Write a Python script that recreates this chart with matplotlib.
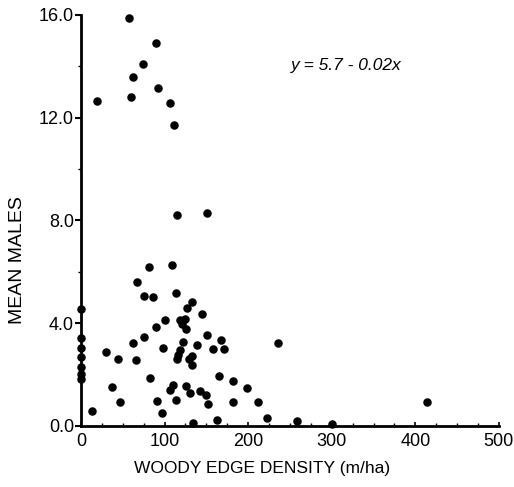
import matplotlib
matplotlib.use("Agg")
import matplotlib.pyplot as plt
from matplotlib.ticker import MultipleLocator

plt.rcParams['font.family'] = ['Liberation Sans', 'DejaVu Sans']

# woody edge density (m/ha) and mean males per site
edge_density = [
    57.8, 89.3, 74.5, 62.6, 92.5, 19.5, 59.4, 106.5, 110.9,
    114.4, 150.3, 81.7, 109.2, 67.0,
    75.4, 85.7, 113.2, 132.8, 126.4, 145.1, 100.5, 118.4, 124.0, 120.8,
    125.6, 89.3, 151.0, 167.8, 122.0, 75.4, 62.2, 98.5, 139.1, 157.5,
    171.0, 235.3, 30.3, 44.6, 65.8, 119.0, 116.5, 114.8, 132.4, 129.5,
    132.8, 165.1, 181.8, 198.6, 82.5, 37.1, 110.4, 106.5, 126.0, 130.0,
    142.0, 149.1, 151.5, 114.0, 46.7, 90.5, 181.8, 211.3, 97.0, 13.5,
    134.3, 162.7, 222.5, 258.0, 300.6, 413.9,
    0, 0, 0, 0, 0, 0, 0,
]
mean_males = [
    15.9, 14.9, 14.1, 13.57, 13.16, 12.66, 12.79, 12.58, 11.72,
    8.21, 8.30, 6.19, 6.26, 5.62,
    5.06, 5.03, 5.16, 4.81, 4.60, 4.37, 4.11, 4.11, 4.18, 3.96,
    3.79, 3.85, 3.53, 3.35, 3.28, 3.47, 3.24, 3.03, 3.14, 3.00,
    3.00, 3.24, 2.89, 2.61, 2.57, 2.95, 2.78, 2.60, 2.74, 2.60,
    2.36, 1.96, 1.76, 1.49, 1.88, 1.53, 1.60, 1.39, 1.54, 1.27,
    1.35, 1.19, 0.86, 1.00, 0.92, 0.96, 0.93, 0.95, 0.52, 0.57,
    0.11, 0.25, 0.31, 0.18, 0.08, 0.95,
    4.55, 3.41, 3.02, 2.67, 2.31, 2.01, 1.83,
]

x_ticks = [0, 100, 200, 300, 400, 500]
y_ticks = [0.0, 4.0, 8.0, 12.0, 16.0]
equation = "y = 5.7 - 0.02x"

fig = plt.figure(figsize=(5.14, 4.87), dpi=100)
ax = fig.add_axes([0.1576, 0.1253, 0.813, 0.844])

ax.scatter(edge_density, mean_males, s=26, color='black', zorder=3, clip_on=False)

ax.set_xlim(0, 500)
ax.set_ylim(0, 16)
ax.set_xticks(x_ticks)
ax.set_xticklabels([str(t) for t in x_ticks])
ax.set_yticks(y_ticks)
ax.set_yticklabels(["%.1f" % t for t in y_ticks])
ax.xaxis.set_minor_locator(MultipleLocator(25))
ax.yaxis.set_minor_locator(MultipleLocator(2))

for side in ['top', 'right']:
    ax.spines[side].set_visible(False)
for side in ['left', 'bottom']:
    ax.spines[side].set_linewidth(2.0)

ax.tick_params(axis='y', which='major', direction='out', length=4, width=1.5, labelsize=13, pad=1)
ax.tick_params(axis='y', which='minor', direction='out', length=2, width=1)
ax.tick_params(axis='x', which='major', direction='in', length=3, width=1.2, labelsize=13, pad=5)
ax.tick_params(axis='x', which='minor', direction='in', length=2, width=1)

ax.set_xlabel("WOODY EDGE DENSITY (m/ha)", fontsize=12.5)
ax.xaxis.set_label_coords(0.433, -0.085)
ax.set_ylabel("MEAN MALES", fontsize=14)
ax.yaxis.set_label_coords(-0.132, 0.404)

ax.text(317, 14.05, equation, fontsize=12.5, style='italic', ha='center', va='center')

fig.savefig("out.png", dpi=100)
